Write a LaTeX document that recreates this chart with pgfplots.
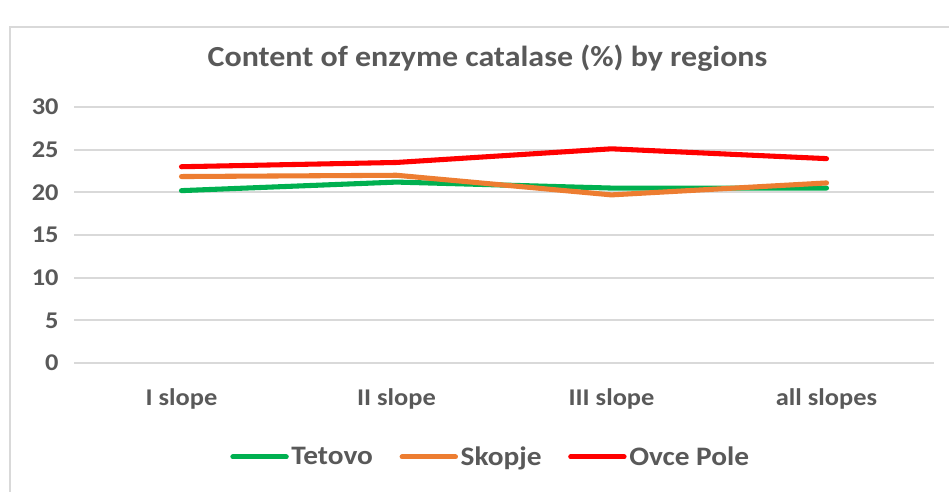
\documentclass[border=0pt]{standalone}
\usepackage{fontspec}
\setmainfont{Carlito}[FakeStretch=1.1]
\usepackage{pgfplots}
\pgfplotsset{compat=1.18}
\definecolor{tgreen}{HTML}{00B050}
\definecolor{torange}{HTML}{ED7D31}
\definecolor{tred}{HTML}{FF0000}
\definecolor{txt}{HTML}{595959}
\definecolor{gridc}{HTML}{D9D9D9}
\begin{document}
\begin{tikzpicture}
\useasboundingbox (0,0) rectangle (711.75pt,369pt);
\fill[white] (0,0) rectangle (711.75pt,369pt);
\begin{scope}
\clip (0,0) rectangle (711.75pt,369pt);
\draw[gridc, line width=1.2pt] (7.5pt,-5pt) rectangle (720pt,348.75pt);
\end{scope}
\node[text=txt, font=\bfseries\fontsize{21.8}{25}\selectfont] at (365.6pt,325pt) {Content of enzyme catalase (\%) by regions};
\begin{axis}[
  at={(55.5pt,96.75pt)}, anchor=south west,
  scale only axis, width=645pt, height=192pt,
  xmin=-0.5, xmax=3.5, ymin=0, ymax=30,
  ytick={0,5,...,30},
  xtick={0,1,2,3},
  xticklabels={I slope, II slope, III slope, all slopes},
  axis line style={draw=none},
  tick style={draw=none},
  xmajorgrids=false,
  ymajorgrids=true,
  major grid style={draw=gridc, line width=1.5pt},
  tick label style={text=txt, font=\bfseries\fontsize{18}{20}\selectfont},
  /pgf/number format/assume math mode=true,
  xticklabel style={yshift=-16pt},
  yticklabel style={xshift=-8pt},
  legend style={draw=none, at={(0.485,-0.367)}, anchor=center,
    font=\bfseries\fontsize{20}{22}\selectfont, text=txt,
    /tikz/every even column/.append style={column sep=18pt},
    inner sep=0pt},
  legend columns=-1,
  legend cell align=left,
  legend image code/.code={\draw[#1, line cap=round] (0pt,0pt) -- (40pt,0pt);},
  every axis plot/.append style={line width=3.8pt, line join=round, line cap=round},
  clip=false,
]
\addplot[tgreen] coordinates {(0,20.2) (1,21.2) (2,20.5) (3,20.5)};
\addlegendentry{Tetovo}
\addplot[torange] coordinates {(0,21.85) (1,22.0) (2,19.7) (3,21.1)};
\addlegendentry{Skopje}
\addplot[tred] coordinates {(0,23.0) (1,23.5) (2,25.1) (3,23.95)};
\addlegendentry{Ovce Pole}
\end{axis}
\end{tikzpicture}
\end{document}
